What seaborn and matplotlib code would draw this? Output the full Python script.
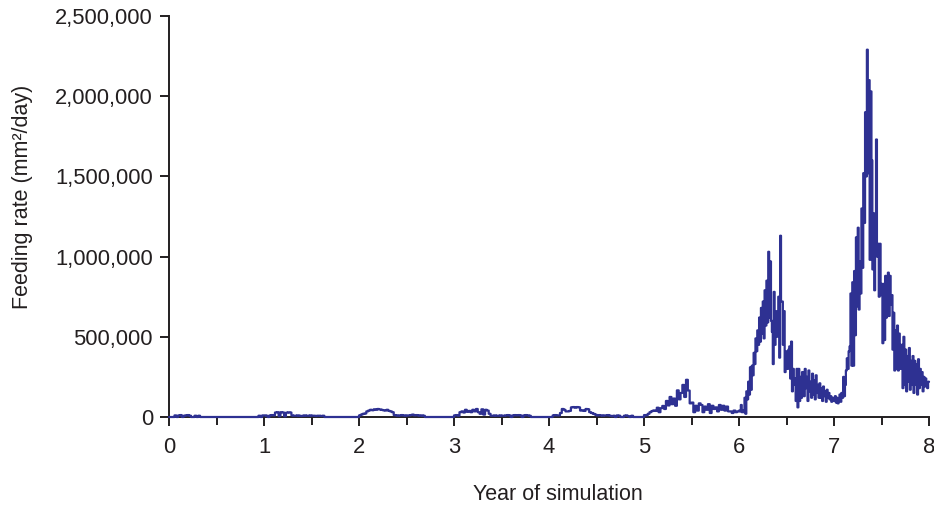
import numpy as np
import pandas as pd
import matplotlib
matplotlib.use("Agg")
import matplotlib.pyplot as plt
import seaborn as sns

# Feeding rate values (thousands of mm^2/day), one list per simulation year
year0 = [0, 0, 0, 10, 0, 10, 12, 0, 8, 10, 12, 8, 0, 0, 8, 0, 8, 0, 0, 0,
         0, 0, 0, 0, 0, 0, 0, 0, 0, 0, 0, 0, 0, 0, 0, 0, 0, 0, 0, 0,
         0, 0, 0, 0, 0, 0, 0, 0, 0, 8, 0, 10]
year1 = [10, 8, 0, 10, 12, 10, 28, 30, 5, 30, 28, 4, 27, 29, 28,
         10, 8, 8, 10, 8, 6, 8, 10, 8, 8, 10, 8, 8, 6, 8, 8, 6, 8,
         0, 0, 0, 0, 0, 0, 0, 0, 0, 0, 0, 0, 0, 0, 0, 0, 0, 0, 0]
year2 = [10, 15, 20, 22, 35, 40, 45, 42, 48, 45, 50, 47, 45, 42, 40, 45, 38,
         35, 30, 12, 10, 8, 10, 12, 10, 8, 10, 10, 12, 15, 10, 12, 10, 8, 10, 8,
         0, 0, 0, 0, 0, 0, 0, 0, 0, 0, 0, 0, 0, 0, 0, 0]
year3 = [10, 12, 8, 30, 35, 28, 45, 32, 38, 30, 45, 35, 50, 30,
         20, 48, 15, 45, 40, 20, 8, 8, 10, 8, 8, 10, 8, 8,
         10, 12, 10, 0, 10, 12, 10, 12, 10, 0, 10, 12, 10, 8,
         0, 0, 0, 0, 0, 0, 0, 0, 0, 0]
year4 = [0, 0, 10, 12, 10, 10, 25, 50, 45, 35, 35, 38, 60, 62, 58, 62, 60,
         40, 42, 38, 50, 48, 30, 25, 20, 15, 10, 12, 10, 8, 10, 10, 12, 8,
         5, 8, 0, 10, 8, 0, 0, 8, 10, 5, 0, 8, 0, 0, 0, 0, 0, 0]
year5 = [12, 10, 20, 30, 37, 41, 38, 58, 30, 55, 69, 50, 100, 72, 125, 80, 115, 70,
         166, 110, 150, 200, 125, 232, 165, 85, 90, 30, 70, 40, 85,
         75, 30, 65, 45, 80, 25, 70, 50, 60, 35, 75, 45, 70, 40, 65, 35,
         35, 25, 40, 30, 35]
year6 = [40, 35, 75, 30, 40, 30, 120, 20, 160, 110,
         220, 140, 310, 170, 320, 260, 400, 330, 490, 410,
         540, 450, 620, 470, 680, 520, 720, 490, 790, 570,
         850, 590, 1030, 620, 970, 600, 530, 330, 780, 450,
         660, 500, 620, 750, 370, 1130, 720, 720, 450, 660,
         280, 410, 300, 300, 420, 440, 240, 470, 160, 300,
         200, 240, 100, 300, 60, 300, 100, 250, 120, 280,
         270, 130, 300, 180, 250, 100, 290, 160, 220, 120,
         270, 140, 230, 110, 260, 150, 200, 120, 210, 120,
         180, 100, 190, 130, 160, 95, 170, 120, 150, 110,
         130, 95, 120, 100]
year7 = [100, 130, 90, 120, 85, 110, 140, 95, 150, 120,
         250, 130, 200, 290, 366, 300, 410,
         440, 770, 320, 840, 320, 910,
         510, 1120, 690, 1180, 670,
         970, 770, 1300, 930, 1520,
         1210, 1900, 1500,
         2290, 1520, 2100,
         980, 2030, 1600, 920, 1270, 790,
         1010, 1730, 1000, 1080, 750, 1080, 760,
         830, 460, 830, 480, 880, 620, 840,
         900, 630, 880, 700, 760, 420, 650, 290, 540, 300,
         570, 290, 520, 300, 450,
         450, 180, 500, 200, 420, 160, 380, 220, 430, 170, 350, 200,
         380, 150, 350, 200, 330, 140, 360, 180, 300, 200, 280, 160,
         250, 190, 240, 200, 180, 220]

x_ticks = [0, 1, 2, 3, 4, 5, 6, 7, 8]
x_tick_labels = ["0", "1", "2", "3", "4", "5", "6", "7", "8"]
x_minor_ticks = [0.5, 1.5, 2.5, 3.5, 4.5, 5.5, 6.5, 7.5]
y_ticks = [0, 500000, 1000000, 1500000, 2000000, 2500000]
y_tick_labels = ["0", "500,000", "1,000,000", "1,500,000", "2,000,000", "2,500,000"]

years = [year0, year1, year2, year3, year4, year5, year6, year7]
t = np.concatenate([y + np.arange(len(v)) / len(v) for y, v in enumerate(years)] + [[8.0]])
vals = np.concatenate([np.array(v, dtype=float) for v in years] + [[years[-1][-1]]]) * 1000.0
df = pd.DataFrame({"year": t, "rate": vals})

sns.set_style("ticks")
plt.rcParams["font.family"] = ["Liberation Sans", "DejaVu Sans"]
ink = "#231f20"

fig = plt.figure(figsize=(9.34, 5.08), dpi=100)
fig.patch.set_facecolor("white")
ax = fig.add_axes([169 / 934, 91 / 508, 760 / 934, 401 / 508])

sns.lineplot(data=df, x="year", y="rate", ax=ax, color="#2e3192", linewidth=1.6,
             drawstyle="steps-post", estimator=None, sort=False, clip_on=False, zorder=5)

ax.set_xlim(0, 8)
ax.set_ylim(0, 2500000)
ax.set_xticks(x_ticks)
ax.set_xticklabels(x_tick_labels)
ax.set_xticks(x_minor_ticks, minor=True)
ax.set_yticks(y_ticks)
ax.set_yticklabels(y_tick_labels)

sns.despine(ax=ax)
for s in ["left", "bottom"]:
    ax.spines[s].set_linewidth(1.4)
    ax.spines[s].set_color(ink)

ax.tick_params(axis="both", which="major", length=6.5, width=1.4, color=ink,
               labelsize=15.8, labelcolor=ink, direction="out")
ax.tick_params(axis="y", which="major", pad=5)
ax.tick_params(axis="x", which="major", pad=8)
ax.tick_params(axis="x", which="minor", length=5.5, width=1.4, color=ink, direction="out")

ax.set_xlabel("Year of simulation", fontsize=15.5, color=ink)
ax.set_ylabel("Feeding rate (mm²/day)", fontsize=15.5, color=ink)
ax.xaxis.set_label_coords(0.512, -0.168)
ax.yaxis.set_label_coords(-0.179, 0.549)

fig.savefig("out.png", dpi=100, facecolor="white")
